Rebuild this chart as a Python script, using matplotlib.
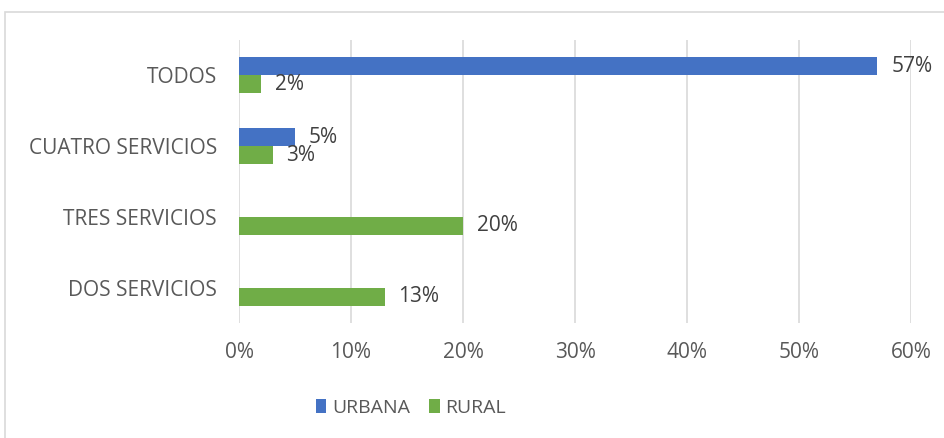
import numpy as np
import matplotlib.pyplot as plt
from matplotlib.patches import Rectangle

categories = ['TODOS', 'CUATRO SERVICIOS', 'TRES SERVICIOS', 'DOS SERVICIOS']
urbana = [57, 5, 0, 0]
rural = [2, 3, 20, 13]
xticks = [0, 10, 20, 30, 40, 50, 60]

plt.rcParams['font.family'] = ['Open Sans', 'DejaVu Sans']
gray = '#595959'

fig = plt.figure(figsize=(9.44, 4.38), dpi=100)
fig.patches.append(Rectangle((5 / 944, -0.1), 1.2, 1 - 12 / 438 + 0.1, transform=fig.transFigure,
                             fill=False, edgecolor='#d9d9d9', linewidth=1.2))
ax = fig.add_axes([239 / 944, 1 - 323 / 438, 672 / 944, 283 / 438])

y = np.arange(len(categories))
h = 0.255
b1 = ax.barh(y - h / 2, urbana, height=h, color='#4472C4', label='URBANA')
b2 = ax.barh(y + h / 2, rural, height=h, color='#70AD47', label='RURAL')

for bars, vals in ((b1, urbana), (b2, rural)):
    for bar, v in zip(bars, vals):
        if v == 0:
            continue
        ax.annotate(f'{v}%', (v, bar.get_y() + bar.get_height() / 2), xytext=(10, 0),
                    textcoords='offset points', va='center', ha='left', fontsize=15, color='#404040')

ax.set_ylim(len(categories) - 0.5, -0.5)
ax.set_xlim(0, 60)
ax.set_xticks(xticks)
ax.set_xticklabels([f'{t}%' for t in xticks])
ax.set_yticks(y)
ax.set_yticklabels(categories)
ax.tick_params(axis='both', length=0, labelsize=15, labelcolor=gray)
ax.tick_params(axis='x', pad=14)
ax.tick_params(axis='y', pad=16)
ax.grid(axis='x', color='#d9d9d9', linewidth=1.2)
ax.set_axisbelow(True)
for s in ax.spines.values():
    s.set_visible(False)

fig.legend(handles=[b1, b2], loc='center', bbox_to_anchor=(411 / 944, 1 - 408 / 438), ncol=2,
           frameon=False, fontsize=14, labelcolor=gray, handlelength=0.52, handleheight=0.75,
           handletextpad=0.3, columnspacing=1.0)

fig.savefig('out.png', dpi=100)
